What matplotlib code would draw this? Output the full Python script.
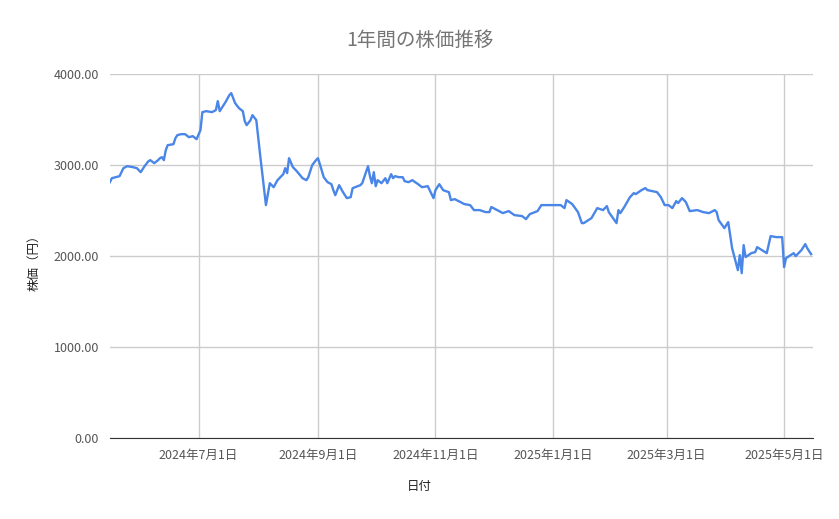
import matplotlib
matplotlib.use("Agg")
import matplotlib.pyplot as plt
import datetime as dt

plt.rcParams['font.family'] = ['Noto Sans CJK JP', 'DejaVu Sans']

base = dt.date(2024, 7, 1)
day_offsets = [-46,-45,-41,-39,-37,-34,-32,-30,-28,-26,-25,-23,-21,-20,-19,-18,-17,-16,-13,-12,-11,-9,-7,-5,-3,-1,
               1,2,4,7,9,10,11,14,16,17,19,21,23,24,25,27,28,30,32,35,37,39,41,44,45,46,47,49,51,54,56,57,59,61,62,63,
               65,67,69,70,71,73,75,77,79,80,84,85,88,89,90,91,92,93,95,97,98,100,101,102,104,106,107,109,111,114,116,
               119,120,122,123,125,127,130,131,133,136,138,141,143,146,149,151,152,155,158,161,164,168,170,172,176,178,
               188,190,191,194,197,199,200,204,207,210,212,213,217,218,219,221,224,226,227,230,232,233,238,240,242,244,
               246,248,249,251,253,255,259,262,265,268,269,270,273,275,277,280,281,282,283,284,287,289,290,295,297,300,
               303,304,305,309,310,313,315,316,318]
prices = [2813,2857,2879,2967,2989,2978,2967,2923,2989,3044,3055,3022,3055,3077,3088,3055,3165,3220,3231,3297,3330,3341,3341,3308,3319,3286,
          3385,3583,3594,3583,3605,3704,3594,3693,3770,3792,3682,3627,3594,3484,3440,3495,3550,3495,3110,2561,2802,2758,2835,2901,2967,2912,3077,2978,2934,2857,2835,2868,3000,3055,3077,3011,
          2868,2813,2791,2725,2670,2780,2703,2638,2648,2747,2780,2802,2989,2879,2802,2923,2769,2835,2802,2857,2802,2901,2857,2879,2868,2868,2824,2813,2835,2791,2758,
          2769,2725,2638,2725,2791,2725,2703,2616,2627,2594,2572,2561,2506,2506,2484,2484,2540,2506,2473,2495,2451,2440,2407,2462,2495,2561,
          2561,2528,2616,2572,2484,2363,2363,2418,2528,2506,2550,2484,2363,2506,2473,2539,2649,2693,2682,2726,2748,2726,2704,2649,2561,2561,
          2528,2605,2583,2638,2594,2495,2506,2484,2473,2506,2484,2396,2308,2374,2088,1846,2011,1813,2121,1989,2033,2044,2099,2033,2220,2209,
          2209,1879,1978,2033,2000,2066,2132,2088,2022]
dates = [base + dt.timedelta(days=d) for d in day_offsets]

tick_dates = [dt.date(2024,7,1), dt.date(2024,9,1), dt.date(2024,11,1), dt.date(2025,1,1), dt.date(2025,3,1), dt.date(2025,5,1)]
tick_labels = ['2024年7月1日','2024年9月1日','2024年11月1日','2025年1月1日','2025年3月1日','2025年5月1日']
y_ticks = [0, 1000, 2000, 3000, 4000]

fig = plt.figure(figsize=(8.39, 5.19), dpi=100)
ax = fig.add_axes([0.131, 0.156, 0.838, 0.701])
ax.plot(dates, prices, color='#4a86e8', lw=1.7)
ax.set_xlim(base + dt.timedelta(days=-46), base + dt.timedelta(days=319))
ax.set_ylim(0, 4000)
ax.set_xticks(tick_dates)
ax.set_xticklabels(tick_labels)
ax.set_yticks(y_ticks)
ax.set_yticklabels([f'{v:.2f}' for v in y_ticks])
ax.grid(True, color='#cccccc', lw=1)
ax.set_axisbelow(True)
for s in ['top', 'right', 'left']:
    ax.spines[s].set_visible(False)
ax.spines['bottom'].set_color('#333333')
ax.tick_params(length=0, colors='#555555', labelsize=9, pad=8)
fig.text(0.5, 0.923, '1年間の株価推移', color='#757575', fontsize=14, ha='center', va='center')
fig.text(0.5, 0.062, '日付', color='#222222', fontsize=9, ha='center', va='center')
fig.text(0.04, 0.5, '株価（円）', color='#222222', fontsize=9, ha='center', va='center', rotation=90)
fig.savefig('out.png', dpi=100, facecolor='white')
